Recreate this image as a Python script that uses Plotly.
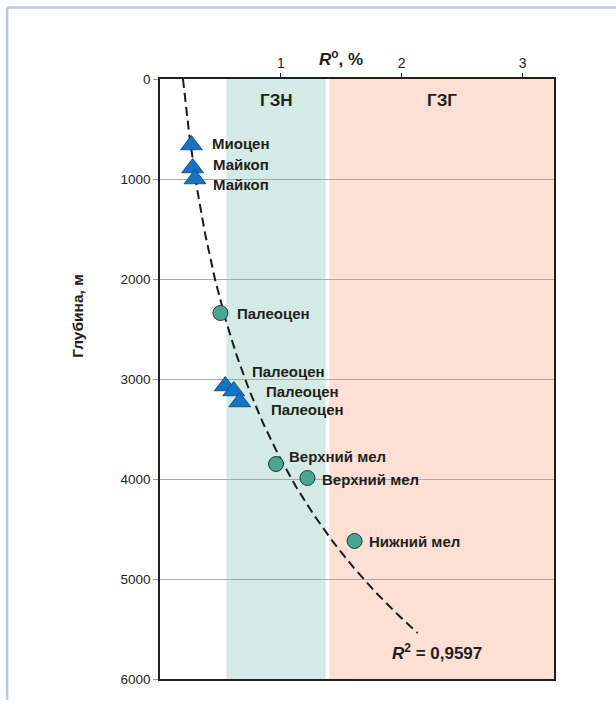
import numpy as np
import plotly.graph_objects as go

# --- data -------------------------------------------------------------
# vitrinite reflectance R°, % and depth, m
tri_names = ["Миоцен", "Майкоп", "Майкоп", "Палеоцен", "Палеоцен", "Палеоцен"]
tri_ro = [0.26, 0.27, 0.29, 0.54, 0.61, 0.66]
tri_depth = [660, 890, 1000, 3070, 3120, 3230]

circ_names = ["Палеоцен", "Верхний мел", "Верхний мел", "Нижний мел"]
circ_ro = [0.50, 0.96, 1.22, 1.61]
circ_depth = [2340, 3850, 3990, 4620]

# exponential trend R° = a * exp(b * depth)
trend_a = 0.19
trend_b = 4.364e-4
trend_depth_max = 5540
r2_text = "<b><i>R</i><sup>2</sup> = 0,9597</b>"

# catagenesis zones (R°, %)
zone_names = ["ГЗН", "ГЗГ"]
zone_from = [0.55, 1.40]
zone_to = [1.37, 3.26]

x_ticks = [1, 2, 3]
x_ticktext = ["1", "2", "3"]
y_ticks = [0, 1000, 2000, 3000, 4000, 5000, 6000]

# --- label offsets (pixels) --------------------------------------------
tri_dx = [19, 18, 16, 25, 30, 29]
tri_dy = [2, 4, -5, 15, 0, -7]
circ_dx = [15, 11, 13, 12]
circ_dy = [0, 8, -1, 0]

# --- styles -------------------------------------------------------------
DARK = "#231f20"
FONT = "Liberation Sans, Arial, sans-serif"
zone_colors = ["#d3ebe4", "#fde0d3"]

fig = go.Figure()

# zones
for name, x0, x1, col in zip(zone_names, zone_from, zone_to, zone_colors):
    fig.add_shape(type="rect", xref="x", yref="y", x0=x0, x1=x1, y0=0, y1=6000,
                  fillcolor=col, line_width=0, layer="below")
    fig.add_annotation(x=(x0 + x1) / 2, y=210, xref="x", yref="y", text=f"<b>{name}</b>",
                       showarrow=False, font=dict(family=FONT, size=17, color=DARK))

# trend curve
depth_line = np.linspace(0, trend_depth_max, 200)
fig.add_trace(go.Scatter(x=trend_a * np.exp(trend_b * depth_line), y=depth_line,
                         mode="lines", line=dict(color="#1a1a1a", width=2, dash="9px,5px"),
                         hoverinfo="skip", showlegend=False))

# samples
fig.add_trace(go.Scatter(x=tri_ro, y=tri_depth, mode="markers", showlegend=False,
                         marker=dict(symbol="triangle-up", size=19, color="#1573c4",
                                     line=dict(color="#0d3f70", width=0.8))))
fig.add_trace(go.Scatter(x=circ_ro, y=circ_depth, mode="markers", showlegend=False,
                         marker=dict(symbol="circle", size=15, color="#4aa593",
                                     line=dict(color="#213b36", width=1))))

label_font = dict(family=FONT, size=15, color=DARK)
for names, xs, ys, dxs, dys in [(tri_names, tri_ro, tri_depth, tri_dx, tri_dy),
                                (circ_names, circ_ro, circ_depth, circ_dx, circ_dy)]:
    for n, x, y, dx, dy in zip(names, xs, ys, dxs, dys):
        fig.add_annotation(x=x, y=y, xref="x", yref="y", text=f"<b>{n}</b>",
                           showarrow=False, xanchor="left", yanchor="middle",
                           xshift=dx, yshift=dy, font=label_font)

fig.add_annotation(x=2.29, y=5730, xref="x", yref="y", text=r2_text, showarrow=False,
                   font=dict(family=FONT, size=17, color=DARK))

# axis titles
fig.add_annotation(x=1.5, y=1.057, xref="x", yref="paper", text="<b><i>R</i><sup>o</sup>, %</b>",
                   showarrow=False, font=dict(family=FONT, size=17, color=DARK))
fig.add_annotation(x=-0.236, y=0.677, xref="paper", yref="paper", text="<b>Глубина, м</b>",
                   textangle=-90, showarrow=False,
                   font=dict(family=FONT, size=15.5, color=DARK))

# outer frame (left and top edges)
frame_col = "#b7cad6"
fig.add_shape(type="line", xref="paper", yref="paper", x0=-0.388, x1=-0.388, y0=-0.035, y1=1.119,
              line=dict(color=frame_col, width=2.5))
fig.add_shape(type="line", xref="paper", yref="paper", x0=-0.388, x1=1.157, y0=1.119, y1=1.119,
              line=dict(color=frame_col, width=2.5))

fig.update_xaxes(side="top", range=[0, 3.26], tickvals=x_ticks, ticktext=x_ticktext,
                 ticks="outside", ticklen=4, tickcolor=DARK, showgrid=False, zeroline=False,
                 showline=True, linecolor=DARK, linewidth=1.5, mirror=True, automargin=False,
                 tickfont=dict(family=FONT, size=14, color=DARK))
fig.update_yaxes(range=[6000, 0], tickvals=y_ticks, ticks="outside", ticklen=5,
                 tickcolor="#9a9a9a", showgrid=True, gridcolor="#a9a9a9", gridwidth=1,
                 zeroline=False, showline=True, linecolor=DARK, linewidth=1.5, mirror=True,
                 automargin=False,
                 tickfont=dict(family=FONT, size=13.5, color=DARK))

fig.update_layout(width=616, height=701, margin=dict(l=160, r=62, t=79, b=22),
                  paper_bgcolor="white", plot_bgcolor="white", showlegend=False)

fig.write_html("out.html")
